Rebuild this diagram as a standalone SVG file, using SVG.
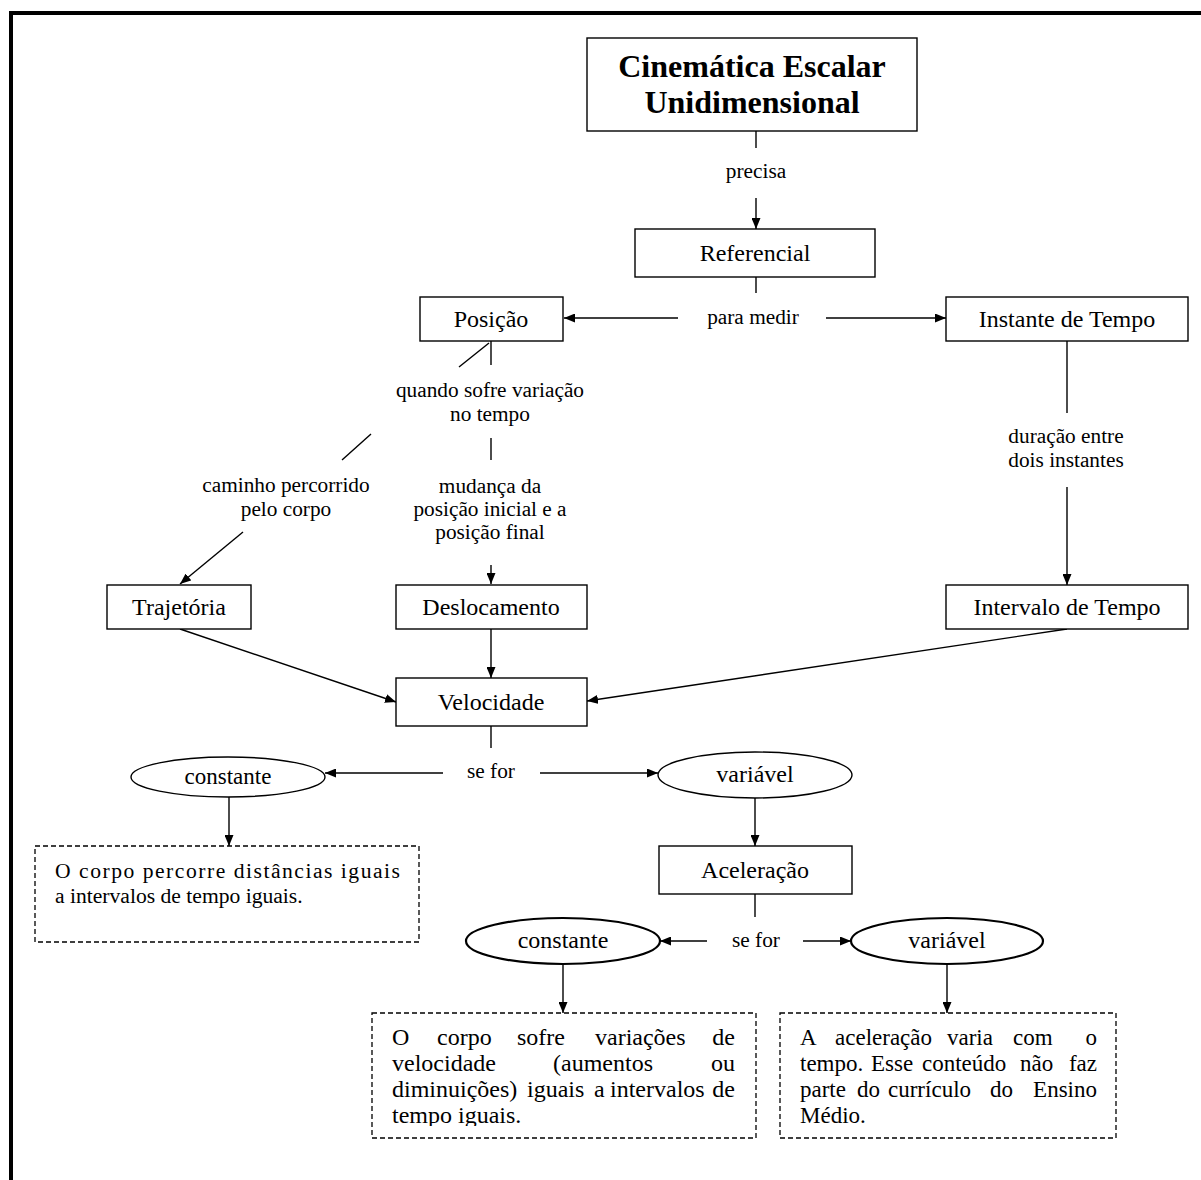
<svg xmlns="http://www.w3.org/2000/svg" width="1201" height="1180" viewBox="0 0 1201 1180">
  <style>
    text { font-family: "Liberation Serif", "Times New Roman", serif; fill: #000; }
    .title { font-size: 32px; font-weight: bold; text-anchor: middle; }
    .nt { font-size: 24px; text-anchor: middle; }
    .ot { font-size: 23px; text-anchor: middle; }
    .lbl { font-size: 21.3px; text-anchor: middle; }
    .body { font-size: 24px; }
    .body3 { font-size: 23px; }
    .body1 { font-size: 21.6px; }
    .end { text-anchor: end; }
    .box { fill: #fff; stroke: #000; stroke-width: 1.4; }
    .oval { fill: #fff; stroke: #000; stroke-width: 1.4; }
    .oval2 { fill: #fff; stroke: #000; stroke-width: 2.2; }
    .note { fill: #fff; stroke: #000; stroke-width: 1.3; stroke-dasharray: 5 3; }
    .ln { fill: none; stroke: #000; stroke-width: 1.4; }
    .arr { marker-end: url(#ah); }
  </style>
  <defs>
    <marker id="ah" markerUnits="userSpaceOnUse" markerWidth="11" markerHeight="9" refX="11" refY="4.5" orient="auto">
      <path d="M0,0 L11,4.5 L0,9 z" fill="#000"/>
    </marker>
    <clipPath id="clipNote2">
      <rect x="372" y="1013" width="384" height="113"/>
    </clipPath>
  </defs>

  <rect width="1201" height="1180" fill="#fff"/>

  <!-- page frame -->
  <g id="frame" stroke="#000" stroke-width="4" fill="none">
    <line x1="9" y1="13" x2="1201" y2="13"/>
    <line x1="11" y1="11" x2="11" y2="1180"/>
  </g>

  <!-- connectors -->
  <g id="connectors">
    <line class="ln" x1="756" y1="131" x2="756" y2="148"/>
    <line class="ln arr" x1="756" y1="198" x2="756" y2="229"/>
    <line class="ln" x1="756" y1="277" x2="756" y2="293"/>
    <line class="ln arr" x1="678" y1="318" x2="564" y2="318"/>
    <line class="ln arr" x1="826" y1="318" x2="946" y2="318"/>
    <line class="ln" x1="1067" y1="341" x2="1067" y2="413"/>
    <line class="ln arr" x1="1067" y1="487" x2="1067" y2="585"/>
    <line class="ln" x1="491" y1="341" x2="491" y2="365"/>
    <line class="ln" x1="489" y1="343" x2="459" y2="367"/>
    <line class="ln" x1="491" y1="438" x2="491" y2="460"/>
    <line class="ln" x1="371" y1="434" x2="342" y2="460"/>
    <line class="ln arr" x1="243" y1="532" x2="180" y2="584"/>
    <line class="ln arr" x1="491" y1="565" x2="491" y2="584"/>
    <line class="ln arr" x1="180" y1="629" x2="396" y2="702"/>
    <line class="ln arr" x1="491" y1="629" x2="491" y2="678"/>
    <line class="ln arr" x1="1067" y1="629" x2="587" y2="701"/>
    <line class="ln" x1="491" y1="726" x2="491" y2="748"/>
    <line class="ln arr" x1="443" y1="773" x2="325" y2="773"/>
    <line class="ln arr" x1="540" y1="773" x2="658" y2="773"/>
    <line class="ln arr" x1="229" y1="797" x2="229" y2="846"/>
    <line class="ln arr" x1="755" y1="798" x2="755" y2="846"/>
    <line class="ln" x1="755" y1="894" x2="755" y2="917"/>
    <line class="ln arr" x1="707" y1="941" x2="660" y2="941"/>
    <line class="ln arr" x1="803" y1="941" x2="851" y2="941"/>
    <line class="ln arr" x1="563" y1="964" x2="563" y2="1013"/>
    <line class="ln arr" x1="947" y1="964" x2="947" y2="1013"/>
  </g>

  <!-- link labels -->
  <g id="labels">
    <text class="lbl" x="756" y="178">precisa</text>
    <text class="lbl" x="753" y="324">para medir</text>
    <text class="lbl" x="490" y="397">quando sofre variação</text>
    <text class="lbl" x="490" y="421">no tempo</text>
    <text class="lbl" x="286" y="492">caminho percorrido</text>
    <text class="lbl" x="286" y="516">pelo corpo</text>
    <text class="lbl" x="490" y="493">mudança da</text>
    <text class="lbl" x="490" y="516">posição inicial e a</text>
    <text class="lbl" x="490" y="539">posição final</text>
    <text class="lbl" x="1066" y="443">duração entre</text>
    <text class="lbl" x="1066" y="467">dois instantes</text>
    <text class="lbl" x="491" y="778">se for</text>
    <text class="lbl" x="756" y="947">se for</text>
  </g>

  <!-- concept nodes -->
  <g id="n-cinematica">
    <rect class="box" x="587" y="38" width="330" height="93"/>
    <text class="title" x="752" y="77">Cinemática Escalar</text>
    <text class="title" x="752" y="113">Unidimensional</text>
  </g>
  <g id="n-referencial">
    <rect class="box" x="635" y="229" width="240" height="48"/>
    <text class="nt" x="755" y="261">Referencial</text>
  </g>
  <g id="n-posicao">
    <rect class="box" x="420" y="297" width="143" height="44"/>
    <text class="nt" x="491" y="327">Posição</text>
  </g>
  <g id="n-instante">
    <rect class="box" x="946" y="297" width="242" height="44"/>
    <text class="nt" x="1067" y="327">Instante de Tempo</text>
  </g>
  <g id="n-trajetoria">
    <rect class="box" x="107" y="585" width="144" height="44"/>
    <text class="nt" x="179" y="615">Trajetória</text>
  </g>
  <g id="n-deslocamento">
    <rect class="box" x="396" y="585" width="191" height="44"/>
    <text class="nt" x="491" y="615">Deslocamento</text>
  </g>
  <g id="n-intervalo">
    <rect class="box" x="946" y="585" width="242" height="44"/>
    <text class="nt" x="1067" y="615">Intervalo de Tempo</text>
  </g>
  <g id="n-velocidade">
    <rect class="box" x="396" y="678" width="191" height="48"/>
    <text class="nt" x="491" y="710">Velocidade</text>
  </g>
  <g id="n-vel-constante">
    <ellipse class="oval" cx="228" cy="777" rx="97" ry="20"/>
    <text class="ot" x="228" y="784">constante</text>
  </g>
  <g id="n-vel-variavel">
    <ellipse class="oval" cx="755" cy="775" rx="97" ry="23"/>
    <text class="nt" x="755" y="782">variável</text>
  </g>
  <g id="n-aceleracao">
    <rect class="box" x="659" y="846" width="193" height="48"/>
    <text class="nt" x="755" y="878">Aceleração</text>
  </g>
  <g id="n-acel-constante">
    <ellipse class="oval2" cx="563" cy="941" rx="97" ry="23"/>
    <text class="nt" x="563" y="948">constante</text>
  </g>
  <g id="n-acel-variavel">
    <ellipse class="oval2" cx="947" cy="941" rx="96" ry="23"/>
    <text class="nt" x="947" y="948">variável</text>
  </g>

  <!-- explanatory notes -->
  <g id="n-mu">
    <rect class="note" x="35" y="846" width="384" height="96"/>
    <text class="body1" x="55" y="878" textLength="345" lengthAdjust="spacing">O corpo percorre distâncias iguais</text>
    <text class="body1" x="55" y="903">a intervalos de tempo iguais.</text>
  </g>
  <g id="n-muv">
    <rect class="note" x="372" y="1013" width="384" height="125"/>
    <g clip-path="url(#clipNote2)">
      <text class="body" y="1045"><tspan x="392">O</tspan><tspan x="437">corpo</tspan><tspan x="517">sofre</tspan><tspan x="595">variações</tspan></text>
      <text class="body end" x="735" y="1045">de</text>
      <text class="body" y="1071"><tspan x="392">velocidade</tspan><tspan x="553">(aumentos</tspan></text>
      <text class="body end" x="735" y="1071">ou</text>
      <text class="body" y="1097"><tspan x="392">diminuições)</tspan><tspan x="527">iguais</tspan><tspan x="594">a</tspan><tspan x="610">intervalos</tspan></text>
      <text class="body end" x="735" y="1097">de</text>
      <text class="body" x="392" y="1123">tempo iguais.</text>
    </g>
  </g>
  <g id="n-variada">
    <rect class="note" x="780" y="1013" width="336" height="125"/>
    <text class="body3" y="1045"><tspan x="800">A</tspan><tspan x="835">aceleração</tspan><tspan x="947">varia</tspan><tspan x="1013">com</tspan></text>
    <text class="body3 end" x="1097" y="1045">o</text>
    <text class="body3" y="1071"><tspan x="800">tempo.</tspan><tspan x="871">Esse</tspan><tspan x="922">conteúdo</tspan><tspan x="1020">não</tspan></text>
    <text class="body3 end" x="1097" y="1071">faz</text>
    <text class="body3" y="1097"><tspan x="800">parte</tspan><tspan x="857">do</tspan><tspan x="888">currículo</tspan><tspan x="990">do</tspan></text>
    <text class="body3 end" x="1097" y="1097">Ensino</text>
    <text class="body3" x="800" y="1123">Médio.</text>
  </g>
</svg>
